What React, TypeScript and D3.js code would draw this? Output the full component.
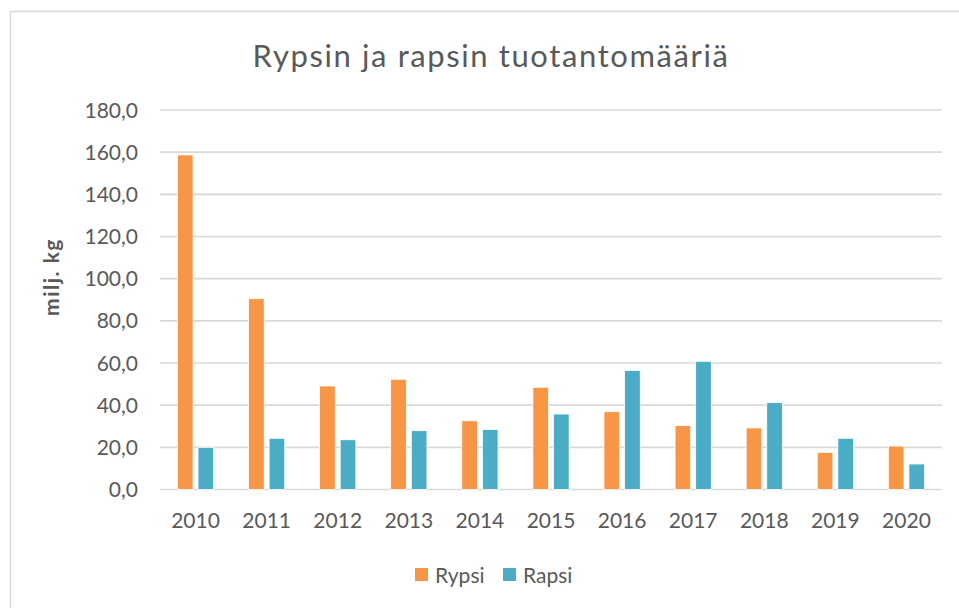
import { useMemo } from "react";
import * as d3 from "d3";

const years = ["2010", "2011", "2012", "2013", "2014", "2015", "2016", "2017", "2018", "2019", "2020"];
const rypsi = [158.7, 90.5, 49.1, 52.3, 32.6, 48.5, 36.9, 30.3, 29.2, 17.6, 20.6];
const rapsi = [20.0, 24.3, 23.6, 27.9, 28.5, 35.8, 56.5, 60.8, 41.2, 24.3, 12.1];
const seriesNames = ["Rypsi", "Rapsi"];
const seriesColors = ["#F79646", "#4BACC6"];
const yTicks = [0, 20, 40, 60, 80, 100, 120, 140, 160, 180];

const W = 959;
const H = 608;
const FONT = "Lato, 'Open Sans', sans-serif";
const TEXT = "#595959";

export default function App() {
    const plot = { left: 160, right: 942, top: 110, bottom: 489.5 };

    const x0 = useMemo(() => d3.scaleBand<string>()
        .domain(years)
        .range([plot.left, plot.right])
        .paddingInner(0.49)
        .paddingOuter(0.245), []);

    const x1 = useMemo(() => d3.scaleBand<string>()
        .domain(seriesNames)
        .range([0, x0.bandwidth()])
        .paddingInner(0.24), [x0]);

    const y = useMemo(() => d3.scaleLinear()
        .domain([0, 180])
        .range([plot.bottom, plot.top]), []);

    const values = [rypsi, rapsi];
    const fmt = (v: number) => v.toFixed(1).replace(".", ",");

    return (
        <svg width={W} height={H} style={{ position: "absolute", left: 0, top: 0, background: "#fff" }}>
            <rect x={10.5} y={11.5} width={980} height={640} fill="#fff" stroke="#D9D9D9" strokeWidth={1.5} />

            <text x={491} y={67} textAnchor="middle" fontFamily={FONT} fontSize={31} letterSpacing={1.6} fill={TEXT}>
                Rypsin ja rapsin tuotantomääriä
            </text>

            {/* grid + y ticks */}
            {yTicks.map(t => (
                <g key={t}>
                    <line x1={plot.left} x2={plot.right} y1={y(t)} y2={y(t)} stroke="#D9D9D9" strokeWidth={1.6} />
                    <text x={138} y={y(t)} dy="0.36em" textAnchor="end" fontFamily={FONT} fontSize={21} fill={TEXT}>
                        {fmt(t)}
                    </text>
                </g>
            ))}

            <text transform={`translate(59,277) rotate(-90)`} textAnchor="middle" fontFamily={FONT}
                fontSize={21} fontWeight="bold" letterSpacing={1.5} fill={TEXT}>
                milj. kg
            </text>

            {/* bars */}
            {years.map((yr, i) => (
                <g key={yr} transform={`translate(${x0(yr)},0)`}>
                    {seriesNames.map((s, si) => (
                        <rect key={s}
                            x={x1(s)}
                            y={y(values[si][i])}
                            width={x1.bandwidth()}
                            height={y(0) - y(values[si][i])}
                            fill={seriesColors[si]}
                            stroke="#fff"
                            strokeWidth={0.8} />
                    ))}
                    <text x={x0.bandwidth() / 2} y={520} dy="0.36em" textAnchor="middle" fontFamily={FONT}
                        fontSize={21} fill={TEXT}>
                        {yr}
                    </text>
                </g>
            ))}

            {/* legend */}
            {seriesNames.map((s, si) => {
                const lx = [415, 503][si];
                return (
                    <g key={s}>
                        <rect x={lx} y={568} width={13} height={13} fill={seriesColors[si]} />
                        <text x={lx + 20} y={575} dy="0.36em" fontFamily={FONT} fontSize={21} fill={TEXT}>{s}</text>
                    </g>
                );
            })}
        </svg>
    );
}
